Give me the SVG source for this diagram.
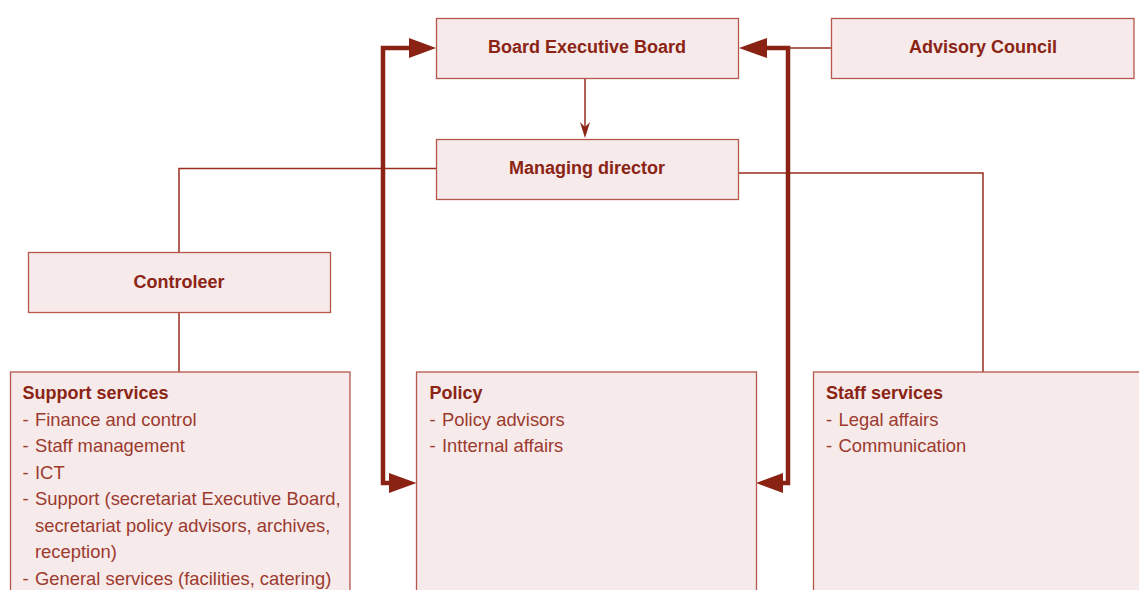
<svg xmlns="http://www.w3.org/2000/svg" width="1139" height="590" viewBox="0 0 1139 590">
<defs>
<style>
.box{fill:#f6eaea;stroke:#b5574c;stroke-width:1.3}
.t{font-family:"Liberation Sans",Arial,sans-serif;font-weight:bold;font-size:18px;fill:#8b2414}
.tc{text-anchor:middle}
.b{font-family:"Liberation Sans",Arial,sans-serif;font-size:18.4px;fill:#9c3a2e}
.thin{fill:none;stroke:#9a2d1f;stroke-width:1.5}
.thick{fill:none;stroke:#8b2314;stroke-width:4.5;stroke-linejoin:miter}
.head{fill:#8b2314}
</style>
</defs>
<rect width="1139" height="590" fill="#ffffff"/>
<g id="connectors">
<path class="thin" d="M179,253 V168.5 H436"/>
<path class="thin" d="M179,312 V372"/>
<path class="thin" d="M738,173 H983 V372"/>
<path class="thin" d="M788,48 H832"/>
<path class="thin" d="M585,78 V134" stroke-width="1.2"/>
<path class="head" d="M580,122 L585,138 L590,122 L585,127 Z"/>
<path class="thick" d="M410,48 H383 V483 H392"/>
<path class="head" d="M409,38 L436,48 L409,58 Z"/>
<path class="head" d="M389,473 L416.5,483 L389,493 Z"/>
<path class="thick" d="M765,48 H788 V483 H782"/>
<path class="head" d="M767,38 L739,48 L767,58 Z"/>
<path class="head" d="M783,473 L756,483 L783,493 Z"/>
</g>
<g id="board">
<rect class="box" x="436.5" y="18.5" width="302" height="60"/>
<text class="t tc" x="587" y="53">Board Executive Board</text>
</g>
<g id="advisory">
<rect class="box" x="831.5" y="18.5" width="302.5" height="60"/>
<text class="t tc" x="983" y="53">Advisory Council</text>
</g>
<g id="managing">
<rect class="box" x="436.5" y="139.5" width="302" height="60"/>
<text class="t tc" x="587" y="174">Managing director</text>
</g>
<g id="controleer">
<rect class="box" x="28.5" y="252.5" width="302" height="60"/>
<text class="t tc" x="179" y="288">Controleer</text>
</g>
<g id="support">
<rect class="box" x="10.5" y="372" width="339.5" height="225"/>
<text class="t" x="22.5" y="399">Support services</text>
<text class="b" y="426"><tspan x="22.5">-</tspan><tspan x="35">Finance and control</tspan></text>
<text class="b" y="452"><tspan x="22.5">-</tspan><tspan x="35">Staff management</tspan></text>
<text class="b" y="479"><tspan x="22.5">-</tspan><tspan x="35">ICT</tspan></text>
<text class="b" y="505"><tspan x="22.5">-</tspan><tspan x="35">Support (secretariat Executive Board,</tspan></text>
<text class="b" x="35" y="531.5">secretariat policy advisors, archives,</text>
<text class="b" x="35" y="558">reception)</text>
<text class="b" y="584.5"><tspan x="22.5">-</tspan><tspan x="35">General services (facilities, catering)</tspan></text>
</g>
<g id="policy">
<rect class="box" x="416.5" y="372" width="340" height="225"/>
<text class="t" x="429.5" y="399">Policy</text>
<text class="b" y="426"><tspan x="429.5">-</tspan><tspan x="442">Policy advisors</tspan></text>
<text class="b" y="452"><tspan x="429.5">-</tspan><tspan x="442">Intternal affairs</tspan></text>
</g>
<g id="staff">
<rect class="box" x="813.5" y="372" width="330" height="225"/>
<text class="t" x="826" y="399">Staff services</text>
<text class="b" y="426"><tspan x="826">-</tspan><tspan x="838.5">Legal affairs</tspan></text>
<text class="b" y="452"><tspan x="826">-</tspan><tspan x="838.5">Communication</tspan></text>
</g>
</svg>
